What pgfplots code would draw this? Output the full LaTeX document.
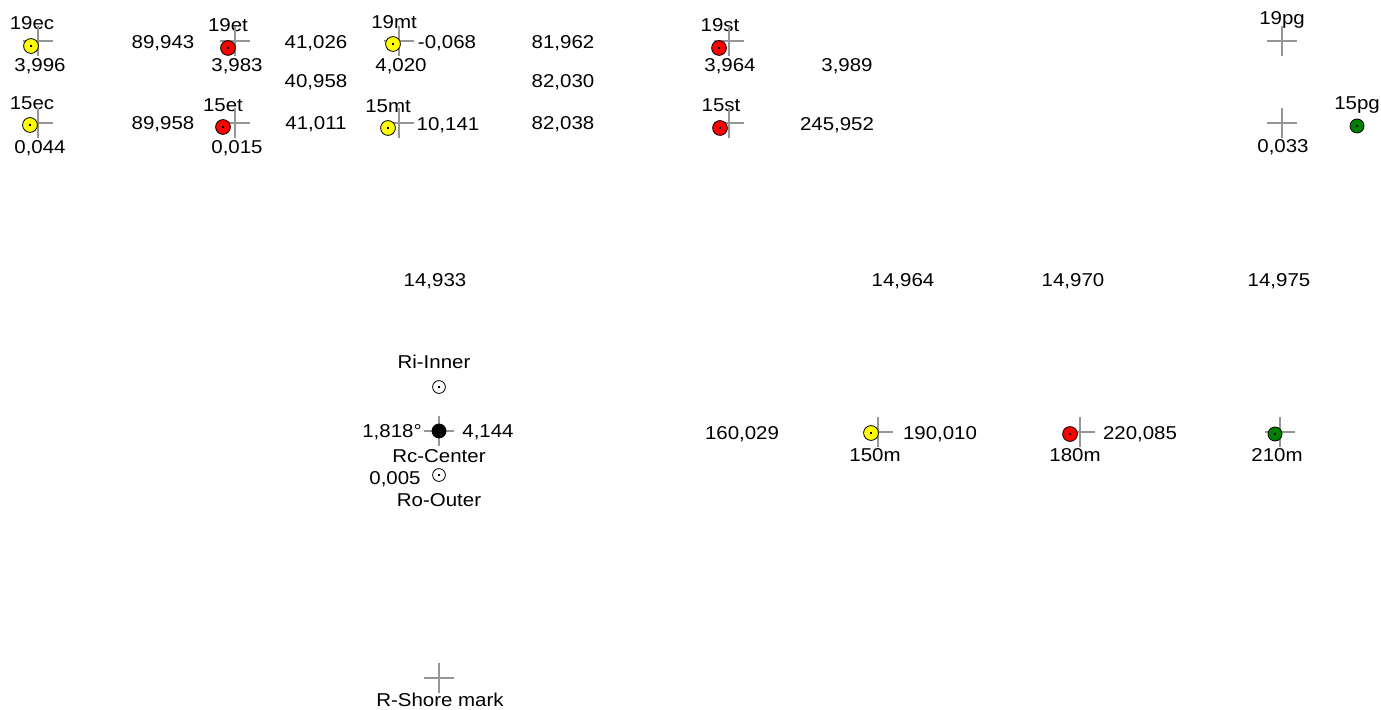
\documentclass[border=0pt]{standalone}
\usepackage{pgfplots}
\pgfplotsset{compat=1.18}
\usepackage{fontspec}
\setmainfont[FakeStretch=1.1]{Liberation Sans}
\definecolor{myyellow}{RGB}{255,255,0}
\definecolor{myred}{RGB}{255,0,0}
\definecolor{mygreen}{RGB}{0,128,0}
\definecolor{crossgray}{RGB}{150,150,150}
\begin{document}
\begin{tikzpicture}[lbl/.style={anchor=base, yshift=-3.3pt, inner sep=0pt, font=\fontsize{9.3}{11}\selectfont}]
\begin{axis}[
  scale only axis, width=690.5pt, height=355pt,
  xmin=0, xmax=1381, ymin=0, ymax=710, y dir=reverse,
  hide axis, clip=false,
]
% crosshairs
\addplot[only marks, mark=+, mark size=7.5pt, draw=crossgray, mark options={line width=0.6pt}] coordinates {
(38,41) (38,123) (235,41) (235,123) (399,41) (399,123) (729,41) (729,123)
(1282,41) (1282,123) (439,431) (878,432) (1080,432) (1280,432) (439,678)};
% yellow points
\addplot[only marks, mark=*, mark size=3.7pt, mark options={fill=myyellow, draw=black, line width=0.4pt}] coordinates {
(31,46) (30,125) (393,44) (388,128) (871,433)};
% red points
\addplot[only marks, mark=*, mark size=3.7pt, mark options={fill=myred, draw=black, line width=0.4pt}] coordinates {
(228,48) (223,127) (719,48) (720,128) (1070,434)};
% green points
\addplot[only marks, mark=*, mark size=3.5pt, mark options={fill=mygreen, draw=black, line width=0.4pt}] coordinates {
(1357,126) (1275,434)};
% black center
\addplot[only marks, mark=*, mark size=3.5pt, mark options={fill=black, draw=black}] coordinates {(439,431)};
% open circles
\addplot[only marks, mark=*, mark size=3.2pt, mark options={fill=white, draw=black, line width=0.4pt}] coordinates {
(439,387) (439,475)};
% tiny centre dots
\addplot[only marks, mark=*, mark size=0.2pt, mark options={fill=black, draw=black, line width=0pt}] coordinates {
(31,46) (30,125) (393,44) (388,128) (871,433) (228,48) (223,127) (719,48) (720,128) (1070,434)
(1357,126) (1275,434) (439,387) (439,475)};

% labels
\node[lbl] at (axis cs:32,23) {19ec};
\node[lbl] at (axis cs:40,65) {3,996};
\node[lbl] at (axis cs:163,42) {89,943};
\node[lbl] at (axis cs:228,25) {19et};
\node[lbl] at (axis cs:237,65) {3,983};
\node[lbl] at (axis cs:316,42) {41,026};
\node[lbl] at (axis cs:394,22) {19mt};
\node[lbl] at (axis cs:447,42) {-0,068};
\node[lbl] at (axis cs:401,65) {4,020};
\node[lbl] at (axis cs:316,81) {40,958};
\node[lbl] at (axis cs:563,42) {81,962};
\node[lbl] at (axis cs:563,81) {82,030};
\node[lbl] at (axis cs:563,123) {82,038};
\node[lbl] at (axis cs:720,25) {19st};
\node[lbl] at (axis cs:730,65) {3,964};
\node[lbl] at (axis cs:847,65) {3,989};
\node[lbl] at (axis cs:1282,18) {19pg};
\node[lbl] at (axis cs:32,103) {15ec};
\node[lbl] at (axis cs:40,147) {0,044};
\node[lbl] at (axis cs:163,123) {89,958};
\node[lbl] at (axis cs:223,105) {15et};
\node[lbl] at (axis cs:237,147) {0,015};
\node[lbl] at (axis cs:316,123) {41,011};
\node[lbl] at (axis cs:388,106) {15mt};
\node[lbl] at (axis cs:448,124) {10,141};
\node[lbl] at (axis cs:721,105) {15st};
\node[lbl] at (axis cs:837,124) {245,952};
\node[lbl] at (axis cs:1283,146) {0,033};
\node[lbl] at (axis cs:1357,103) {15pg};
\node[lbl] at (axis cs:435,280) {14,933};
\node[lbl] at (axis cs:903,280) {14,964};
\node[lbl] at (axis cs:1073,280) {14,970};
\node[lbl] at (axis cs:1279,280) {14,975};
\node[lbl] at (axis cs:434,362) {Ri-Inner};
\node[lbl] at (axis cs:392,431) {1,818°};
\node[lbl] at (axis cs:488,431) {4,144};
\node[lbl] at (axis cs:439,456) {Rc-Center};
\node[lbl] at (axis cs:395,478) {0,005};
\node[lbl] at (axis cs:439,500) {Ro-Outer};
\node[lbl] at (axis cs:742,433) {160,029};
\node[lbl] at (axis cs:940,433) {190,010};
\node[lbl] at (axis cs:875,455) {150m};
\node[lbl] at (axis cs:1140,433) {220,085};
\node[lbl] at (axis cs:1075,455) {180m};
\node[lbl] at (axis cs:1277,455) {210m};
\node[lbl] at (axis cs:440,700) {R-Shore mark};
\end{axis}
\pgfresetboundingbox
\path (current axis.south west) rectangle (current axis.north east);
\end{tikzpicture}
\end{document}
